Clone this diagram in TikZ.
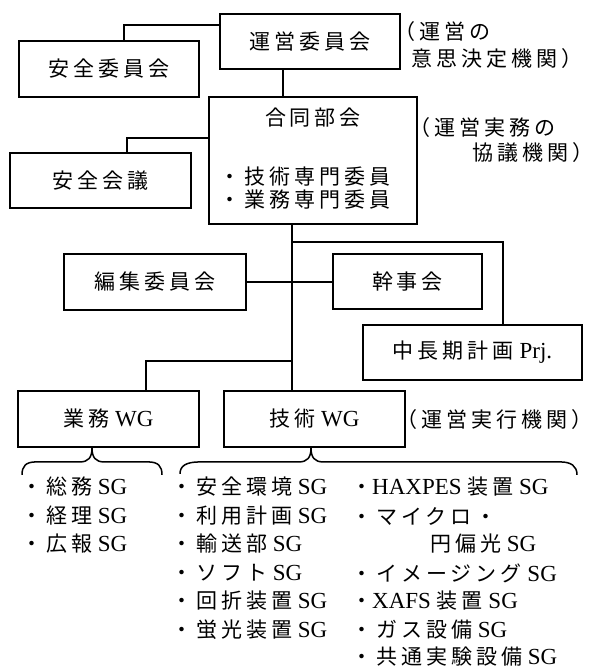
\documentclass[tikz,border=0pt]{standalone}
\usepackage{fontspec}
\setmainfont{Liberation Serif}
\newfontfamily\jp{Noto Sans CJK JP}[LetterSpace=19, Scale=0.913]
\newcommand\J[1]{{\jp #1}}
\begin{document}
\begin{tikzpicture}[x=1pt,y=-1pt,
  every node/.style={inner sep=0pt, font=\fontsize{23}{28.5}\selectfont},
  box/.style={draw, line width=1.8pt},
  conn/.style={line width=1.5pt},
  lbl/.style={anchor=west}]
\useasboundingbox (0,0) rectangle (598,671);
% boxes
\node[box, minimum width=180pt, minimum height=55pt] (unei) at (310,41.5) {\J{運営委員会}};
\node[box, minimum width=180pt, minimum height=56pt] (aiinkai) at (109,69) {\J{安全委員会}};
\node[box, minimum width=208pt, minimum height=127pt] (godo) at (313,160.5) {};
\node (godot) at (313,118) {\J{合同部会}};
\node[lbl] (godo1) at (219,177) {\J{・技術専門委員}};
\node[lbl] (godo2) at (219,200) {\J{・業務専門委員}};
\node[box, minimum width=181pt, minimum height=55pt] (akaigi) at (100.5,180.5) {\J{安全会議}};
\node[box, minimum width=182pt, minimum height=56pt] (henshu) at (155,282) {\J{編集委員会}};
\node[box, minimum width=149pt, minimum height=55pt] (kanji) at (407.5,281.5) {\J{幹事会}};
\node[box, minimum width=219pt, minimum height=55pt] (chuki) at (472.5,352.5) {\J{中長期計画} Prj.};
\node[box, minimum width=181pt, minimum height=56pt] (gyomu) at (108.5,419) {\J{業務} WG};
\node[box, minimum width=181pt, minimum height=56pt] (gijutsu) at (314.5,419) {\J{技術} WG};
% annotations
\node[lbl] (a1) at (394,32) {\J{（運営の}};
\node[lbl] (a2) at (411,59) {\J{意思決定機関）}};
\node[lbl] (a3) at (409,128) {\J{（運営実務の}};
\node[lbl] (a4) at (472,153) {\J{協議機関）}};
\node[lbl] (a5) at (396,420) {\J{（運営実行機関）}};
% connectors
\draw[conn] ([yshift=-12pt]unei.north west) -| ([xshift=15pt]aiinkai.north);
\draw[conn] ([xshift=-27pt]unei.south) -- ([xshift=-27pt]unei.south |- godo.north);
\draw[conn] ([yshift=-42pt]godo.north west) -| ([xshift=26.5pt]akaigi.north);
\coordinate (trunk) at ([xshift=-21pt]godo.south);
\draw[conn] (trunk) -- (trunk |- gijutsu.north);
\draw[conn] ([yshift=-17pt]trunk) -| ([xshift=30.5pt]chuki.north);
\draw[conn] (henshu.east) -- (henshu.east -| kanji.west);
\draw[conn] ([yshift=-136pt]trunk) -| ([xshift=37.5pt]gyomu.north);
% braces
\coordinate (bt1) at ([xshift=-16.5pt]gyomu.south);
\draw[conn] (bt1) .. controls +(0,10) and +(8,0) .. ++(-12,14) -- ++(-44,0)
  .. controls +(-10,0) and +(0,-9) .. ++(-14,13);
\draw[conn] (bt1) .. controls +(0,10) and +(-8,0) .. ++(12,14) -- ++(44,0)
  .. controls +(10,0) and +(0,-9) .. ++(14,13);
\coordinate (bt2) at ([xshift=-3.5pt]gijutsu.south);
\draw[conn] (bt2) .. controls +(0,10) and +(8,0) .. ++(-12,14) -- ++(-99,0)
  .. controls +(-14,0) and +(0,-8) .. ++(-20,12);
\draw[conn] (bt2) .. controls +(0,10) and +(-8,0) .. ++(12,14) -- ++(237,0)
  .. controls +(11,0) and +(0,-9) .. ++(17,13);
% lists
\node[lbl] (l1) at (21,487) {\J{・総務} SG};
\node[lbl] (l2) at (21,516) {\J{・経理} SG};
\node[lbl] (l3) at (21,544) {\J{・広報} SG};
\node[lbl] (m1) at (171,487) {\J{・安全環境} SG};
\node[lbl] (m2) at (171,516) {\J{・利用計画} SG};
\node[lbl] (m3) at (171,544) {\J{・輸送部} SG};
\node[lbl] (m4) at (171,573) {\J{・ソフト} SG};
\node[lbl] (m5) at (171,601) {\J{・回折装置} SG};
\node[lbl] (m6) at (171,630) {\J{・蛍光装置} SG};
\node[lbl] (r1) at (351,487) {\J{・}HAXPES \J{装置} SG};
\node[lbl] (r2) at (351,516) {\J{・マイクロ・}};
\node[lbl] (r3) at (430,544) {\J{円偏光} SG};
\node[lbl] (r4) at (351,573) {\J{・イメージング} SG};
\node[lbl] (r5) at (351,601) {\J{・}XAFS \J{装置} SG};
\node[lbl] (r6) at (351,630) {\J{・ガス設備} SG};
\node[lbl] (r7) at (351,657) {\J{・共通実験設備} SG};
\end{tikzpicture}
\end{document}
